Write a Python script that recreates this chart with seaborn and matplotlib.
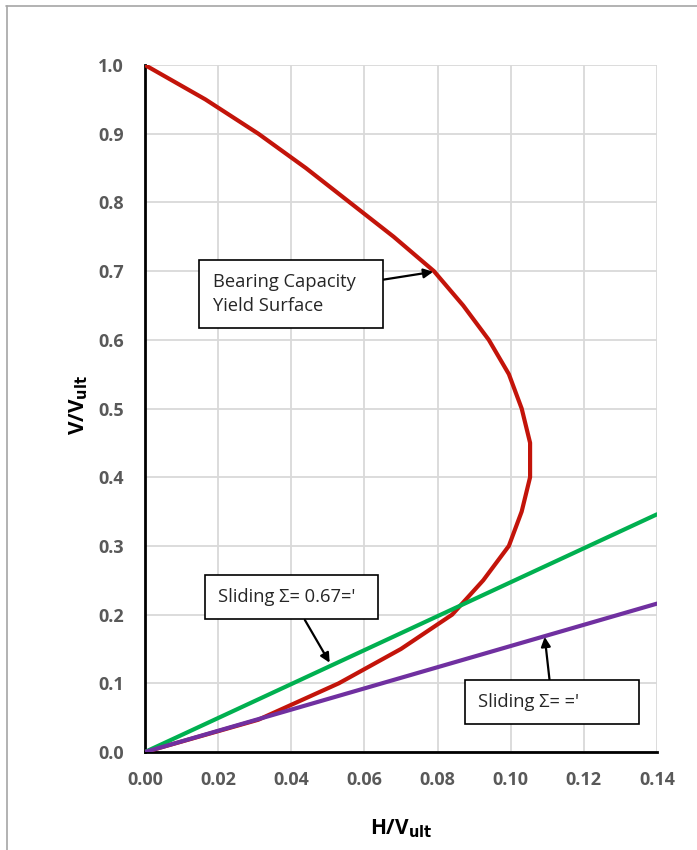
import matplotlib
matplotlib.use("Agg")
import matplotlib.pyplot as plt
from matplotlib.lines import Line2D
import seaborn as sns
import pandas as pd

# Bearing capacity yield surface (H/Vult, V/Vult)
yield_h = [0.000, 0.0165, 0.031, 0.044, 0.056, 0.068, 0.079, 0.087, 0.094, 0.0995,
           0.103, 0.1053, 0.1053, 0.103, 0.0995, 0.0925, 0.084, 0.070, 0.053, 0.031, 0.000]
yield_v = [1.00, 0.95, 0.90, 0.85, 0.80, 0.75, 0.70, 0.65, 0.60, 0.55,
           0.50, 0.45, 0.40, 0.35, 0.30, 0.25, 0.20, 0.15, 0.10, 0.047, 0.00]

# Sliding limits (straight lines through the origin)
slide_h = [0.0, 0.14]
slide_067_v = [0.0, 0.346]
slide_full_v = [0.0, 0.216]

x_ticks = [0.00, 0.02, 0.04, 0.06, 0.08, 0.10, 0.12, 0.14]
y_ticks = [0.0, 0.1, 0.2, 0.3, 0.4, 0.5, 0.6, 0.7, 0.8, 0.9, 1.0]

RED = "#C3140A"
GREEN = "#00B050"
PURPLE = "#7030A0"
TICK_GREY = "#595959"

sns.set_theme(style="white")
plt.rcParams["font.family"] = ["Open Sans", "DejaVu Sans"]

fig = plt.figure(figsize=(6.97, 8.5), dpi=100)
ax = fig.add_axes([0.208, 0.1153, 0.7346, 0.8082])

df_yield = pd.DataFrame({"h": yield_h, "v": yield_v})
df_067 = pd.DataFrame({"h": slide_h, "v": slide_067_v})
df_full = pd.DataFrame({"h": slide_h, "v": slide_full_v})

sns.lineplot(data=df_yield, x="h", y="v", sort=False, estimator=None,
             color=RED, linewidth=3.0, ax=ax, zorder=3)
sns.lineplot(data=df_067, x="h", y="v", sort=False, estimator=None,
             color=GREEN, linewidth=3.0, ax=ax, zorder=4)
sns.lineplot(data=df_full, x="h", y="v", sort=False, estimator=None,
             color=PURPLE, linewidth=3.0, ax=ax, zorder=5)

ax.set_xlim(0, 0.14)
ax.set_ylim(0, 1.0)
ax.set_xticks(x_ticks)
ax.set_yticks(y_ticks)
ax.set_xticklabels([f"{t:.2f}" for t in x_ticks])
ax.set_yticklabels([f"{t:.1f}" for t in y_ticks])
ax.tick_params(axis="both", length=0, labelsize=13, labelcolor=TICK_GREY)
ax.tick_params(axis="x", pad=14)
ax.tick_params(axis="y", pad=15)
for lab in ax.get_xticklabels() + ax.get_yticklabels():
    lab.set_fontweight("bold")

ax.grid(True, color="#D9D9D9", linewidth=1.3, zorder=0)
ax.set_axisbelow(True)
for side in ("top", "right"):
    ax.spines[side].set_visible(False)
for side in ("left", "bottom"):
    ax.spines[side].set_color("black")
    ax.spines[side].set_linewidth(2.0)
    ax.spines[side].set_zorder(2)

ax.set_xlabel("H/V$_{\\mathbf{ult}}$", fontsize=15, fontweight="bold", color="black", labelpad=20)
ax.set_ylabel("V/V$_{\\mathbf{ult}}$", fontsize=15, fontweight="bold", color="black")
ax.yaxis.set_label_coords(-0.108, 0.505)

box = dict(boxstyle="square,pad=0.72", facecolor="white", edgecolor="black", linewidth=1.2)
arrow = dict(arrowstyle="-|>", color="black", linewidth=1.6, mutation_scale=14, shrinkA=0, shrinkB=0)

ax.annotate("Bearing Capacity   \nYield Surface", xy=(0.0788, 0.699), xytext=(0.0185, 0.6665),
            textcoords="data", fontsize=13.2, ha="left", va="center", bbox=box,
            arrowprops=arrow, linespacing=1.45, zorder=6)
ax.annotate("Sliding \u03a3= 0.67='  ", xy=(0.0505, 0.130), xytext=(0.0200, 0.2255),
            fontsize=13.2, ha="left", va="center", bbox=box, arrowprops=arrow, zorder=6)
ax.annotate("Sliding \u03a3= ='          ", xy=(0.1093, 0.1675), xytext=(0.0910, 0.0725),
            fontsize=13.2, ha="left", va="center", bbox=box, arrowprops=arrow, zorder=6)

# Outer chart frame
fig.add_artist(Line2D([6 / 697, 1.0], [1 - 6 / 850, 1 - 6 / 850], transform=fig.transFigure,
                      color="#A6A6A6", linewidth=1.2))
fig.add_artist(Line2D([7 / 697, 7 / 697], [0.0, 1 - 6 / 850], transform=fig.transFigure,
                      color="#A6A6A6", linewidth=1.2))

fig.savefig("out.png", dpi=100)
